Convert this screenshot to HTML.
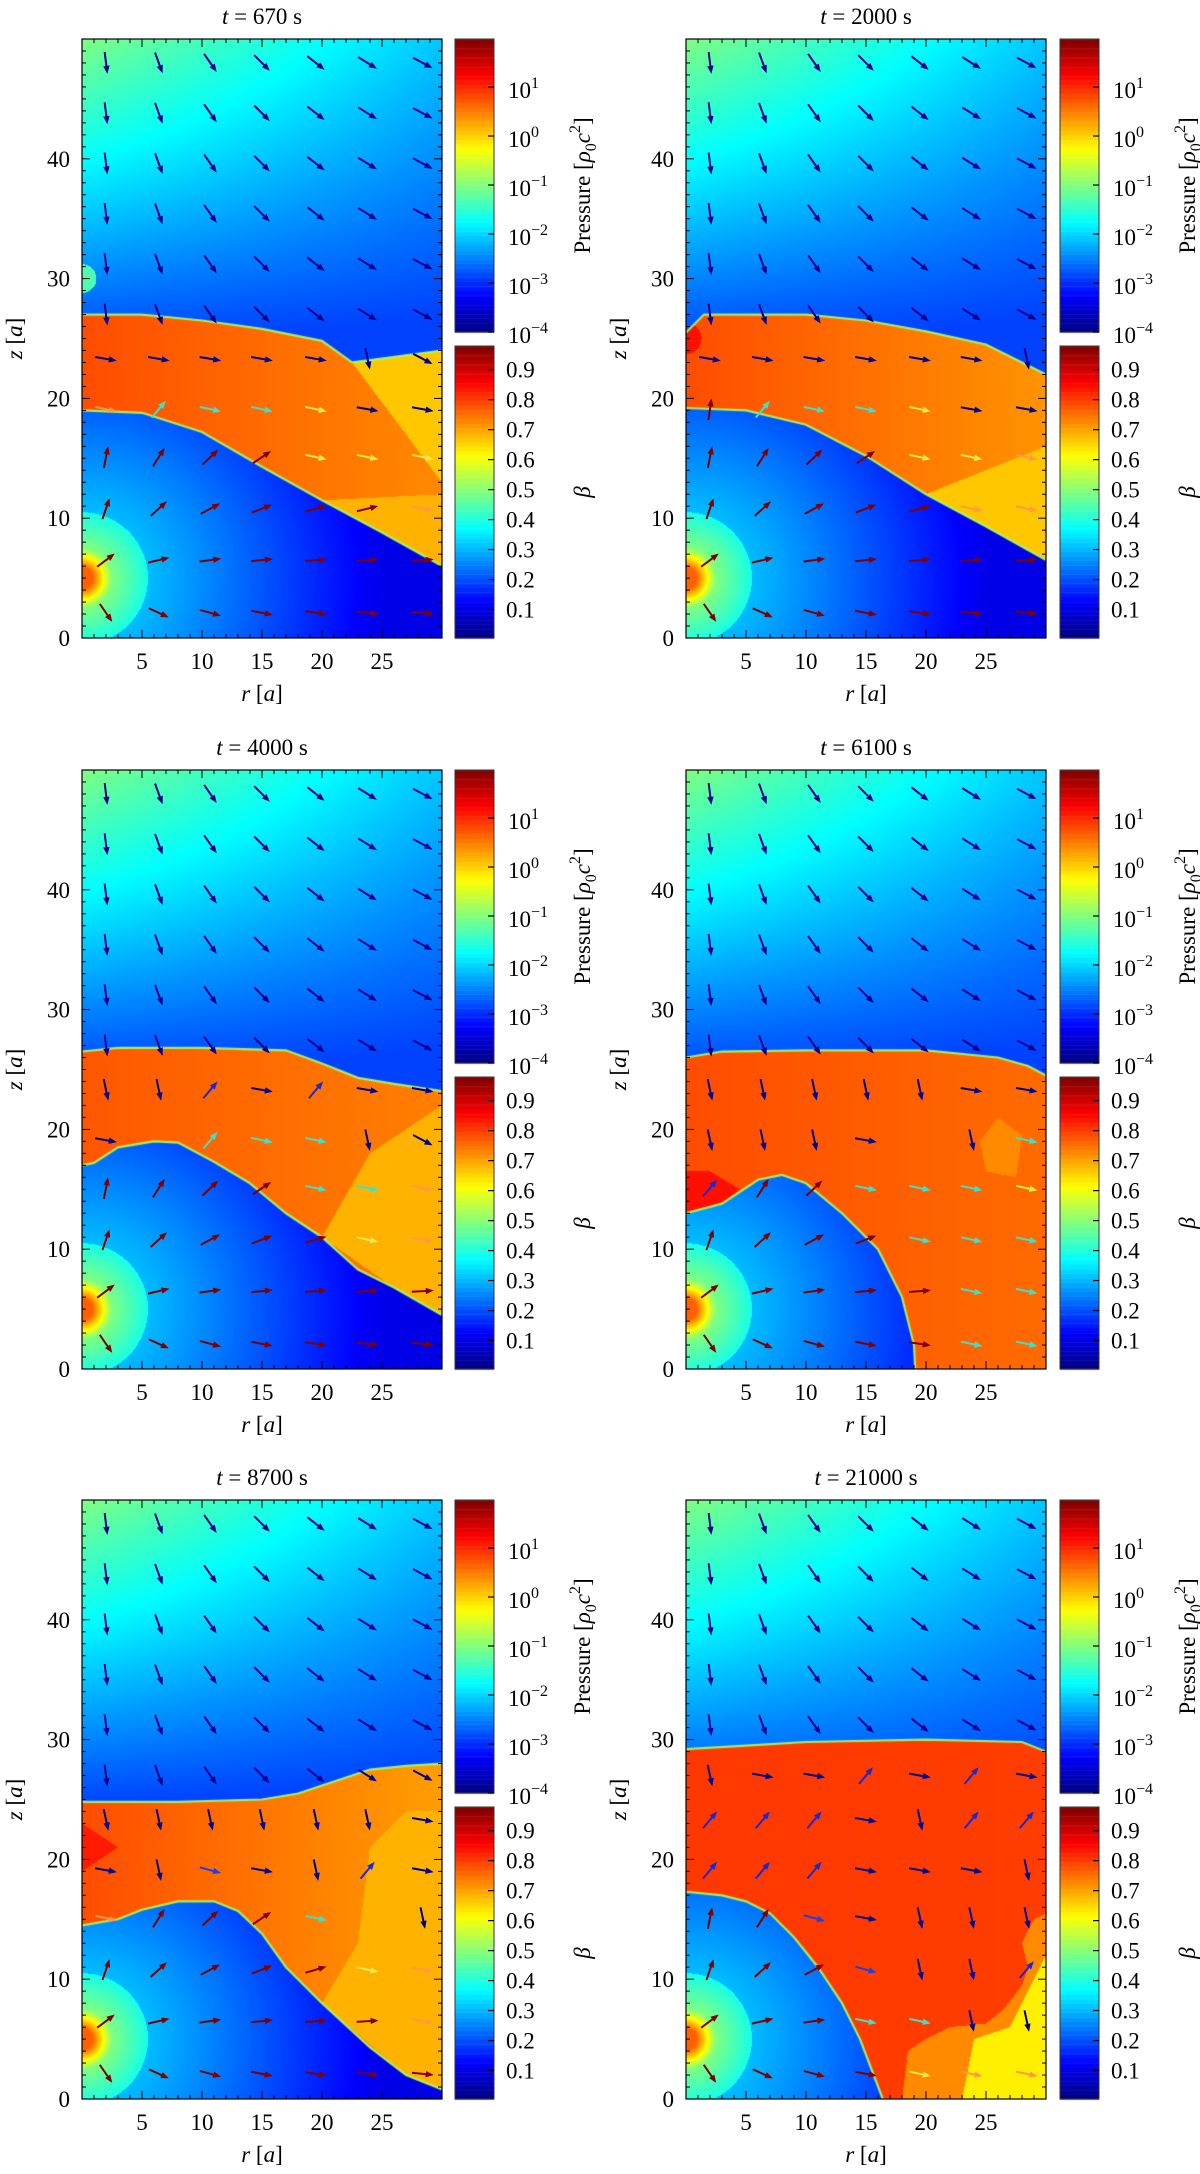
<!DOCTYPE html>
<html><head><meta charset="utf-8">
<style>
html,body{margin:0;padding:0;background:#fff;}
#wrap{position:relative;width:1200px;height:2174px;overflow:hidden;}
canvas,svg{position:absolute;left:0;top:0;}
svg text{font-family:"Liberation Serif",serif;font-size:23px;fill:#000;}
</style></head>
<body>
<div id="wrap">
<canvas id="cv" width="1200" height="2174"></canvas>
<svg id="sv" width="1200" height="2174" xmlns="http://www.w3.org/2000/svg"></svg>
</div>
<script>
const times=[670,2000,4000,6100,8700,21000];
const topEdges=[
[[0,27],[5,27],[10,26.5],[15,25.8],[20,24.8],[22.5,23],[24,23.2],[30,24]],
[[0,25.5],[1.5,27],[10,27],[15,26.5],[20,25.6],[25,24.5],[28,23],[30,22]],
[[0,26.5],[3,26.8],[10,26.8],[17,26.6],[20,25.5],[23,24.3],[26,23.8],[30,23.2]],
[[0,26],[3,26.5],[10,26.6],[20,26.6],[26,26],[28.5,25.3],[30,24.5]],
[[0,24.8],[8,24.8],[15,25],[18,25.5],[21,26.5],[24,27.5],[27,27.8],[30,28]],
[[0,29.2],[5,29.5],[10,29.8],[20,30],[28,29.8],[30,29]]
];
const blueRegions=[
[[0,19],[5,18.8],[10,17.2],[15,14.3],[20,11.5],[25,8.8],[30,6],[30,0]],
[[0,19.2],[5,19],[10,17.8],[15,15.2],[20,12],[25,9.3],[30,6.5],[30,0]],
[[0,17],[1,17.2],[3,18.5],[6,19],[8,18.9],[11,17.3],[14,15.5],[17,13],[20,11],[23,8.3],[26,6.8],[30,4.5],[30,0]],
[[0,13],[3,13.8],[6,15.8],[8,16.2],[10,15.5],[13,13],[16,10],[18,6],[19,2],[19.1,0]],
[[0,14.5],[3,15],[5,15.8],[8,16.5],[11,16.5],[13,15.7],[15,13.8],[17,11],[20,8],[24,4.3],[27,2],[30,0.8],[30,0]],
[[0,17.3],[3,17],[5,16.5],[7,15.5],[9,13.5],[11,11],[13,8],[14.5,5],[16.4,0]]
];
const layerLeft=[0.80,0.80,0.79,0.80,0.80,0.82];
const layerRight=[0.74,0.73,0.75,0.77,0.72,0.815];
const patchValues=[[0.68,0.70],[0.68],[0.70],[0.86,0.74],[0.70,0.85],[0.74,0.64]];
const patchShapes=[
[[[22.5,23],[30,24],[30,13],[27,17]],[[20,11.5],[30,12],[30,6],[25,8.8]]],
[[[20,12],[30,16],[30,6.5],[25,9.3]]],
[[[20,11],[24,18],[30,22],[30,4.5],[26,6.8]]],
[[[0,13],[3,13.8],[4.5,15],[2,16.5],[0,16.5]],[[24.5,19],[26,21],[28,19.5],[27.5,16],[25,16.5]]],
[[[20,8],[23,13],[24,21],[27,24],[30,24],[30,0.8],[27,2]],[[0,19],[0,23],[3,21]]],
[[[18,0],[18.5,4],[20,5],[22,6],[25,6.3],[26.5,7.5],[28,9.5],[28.5,11],[28,13],[29,15],[30,15.5],[30,0]],[[23,0],[24,5],[27,6],[29,10],[30,12],[30,0]]]
];
const arrowGrids=[
["NNNNNNN","NNNNNNN","NNNNNNN","NNNNNNN","NNNNNNN","NNNNNNN","nnnnndN","oCccynn","RRRRyyy","RRRRRRo","RRRRRRR","RRRRRRR"],
["NNNNNNN","NNNNNNN","NNNNNNN","NNNNNNN","NNNNNNN","NNNNNNN","nnnnnnd","RCccynn","RRRRyyo","RRRRRoo","RRRRRRR","RRRRRRR"],
["NNNNNNN","NNNNNNN","NNNNNNN","NNNNNNN","NNNNNNN","NNNNNNN","ddununn","n.CccdN","RRRRcco","RRRRRyo","RRRRRRR","RRRRRRR"],
["NNNNNNN","NNNNNNN","NNNNNNN","NNNNNNN","NNNNNNN","NNNNNNN","dddddnn","dddn.dc","uRRcccy","RRRRccc","RRRRRcc","RRRRRcc"],
["NNNNNNN","NNNNNNN","NNNNNNN","NNNNNNN","NNNNNNN","NNNNNNN","ddddddn","ndbndun","oRRRc.d","RRRRRyo","RRRRRRo","RRRRRRR"],
["NNNNNNN","NNNNNNN","NNNNNNN","NNNNNNN","NNNNNNN","dnnunun","uuunduu","uuunnnd","RRbnddd","RRRbddu","RRRccdd","RRRRyoo"]
];
const zRows=[48,43.8,39.6,35.4,31.2,27,23.3,19.1,15.1,10.8,6.5,2.1];
const rCols=[2,6.4,10.7,15,19.5,23.8,28.4];
const ambAngles=[-83,-70,-55,-45,-38,-32,-28];
const xTicks=[5,10,15,20,25];
const yTicks=[0,10,20,30,40];
const pressureTicks=[1,0,-1,-2,-3,-4];
const betaTicks=[0.1,0.2,0.3,0.4,0.5,0.6,0.7,0.8,0.9];

const colX=[82,686], rowY=[39,770,1500], PW=360, PH=599, CBX=[455,1060], CBW=39;
const P_LO=-4, P_HI=1.98, B_LO=0.005, B_HI=0.979;
const NS='http://www.w3.org/2000/svg';
const sv=document.getElementById('sv');
const ctx=document.getElementById('cv').getContext('2d');

function clamp(x){return x<0?0:x>1?1:x;}
function jet(v){return [clamp(1.5-Math.abs(4*v-3)),clamp(1.5-Math.abs(4*v-2)),clamp(1.5-Math.abs(4*v-1))].map(c=>Math.round(c*255));}
function interp(pts,r){for(let i=0;i<pts.length-1;i++){if(r>=pts[i][0]&&r<=pts[i+1][0]){const t=(r-pts[i][0])/((pts[i+1][0]-pts[i][0])||1);return pts[i][1]+t*(pts[i+1][1]-pts[i][1]);}}return pts[pts.length-1][1];}
function inPoly(p,x,y){let c=false;for(let i=0,j=p.length-1;i<p.length;j=i++){const xi=p[i][0],yi=p[i][1],xj=p[j][0],yj=p[j][1];if(((yi>y)!=(yj>y))&&(x<(xj-xi)*(y-yi)/(yj-yi)+xi))c=!c;}return c;}
function ambient(r,z){return Math.max(0.19,0.22+(z-27)/23*(0.28-0.15*r/30)-0.03*r/30);}
function blueV(r,z){const d=Math.hypot(r,z-5);if(d<0.9)return 0.78;if(d<2.5)return 0.78-(d-0.9)/1.6*0.28;if(d<5.5)return 0.50-(d-2.5)*0.035;return Math.max(0.1,0.31-(d-5.5)*0.0105);}
function el(tag,attrs,parent){const e=document.createElementNS(NS,tag);for(const k in attrs)e.setAttribute(k,attrs[k]);(parent||sv).appendChild(e);return e;}
function txt(x,y,s,anchor,parent){const t=el('text',{x:x,y:y,'text-anchor':anchor||'middle'},parent);t.textContent=s;return t;}

for(let p=0;p<6;p++){
  const x0=colX[p%2], y0=rowY[Math.floor(p/2)];
  const X=r=>x0+r/30*PW, Y=z=>y0+(50-z)/50*PH;
  const g=el('g',{});
  
  
  const img=ctx.createImageData(PW,PH);
  const blue=blueRegions[p].concat([[0,0]]);
  for(let py=0;py<PH;py++){
    const z=50-(py+0.5)/PH*50;
    for(let px=0;px<PW;px++){
      const r=(px+0.5)/PW*30;
      let v;
      if(z>interp(topEdges[p],r)){v=ambient(r,z);if(p==0&&Math.hypot(r,z-30)<1.2)v=0.45;}
      else if(inPoly(blue,r,z)){v=blueV(r,z);}
      else{v=layerLeft[p]+(layerRight[p]-layerLeft[p])*r/30;
        for(let k=0;k<patchShapes[p].length;k++){if(inPoly(patchShapes[p][k],r,z))v=patchValues[p][k];}
        if(p==1&&Math.hypot(r,z-25)<1.3)v=0.86;}
      const c=jet(v),o=(py*PW+px)*4;
      img.data[o]=c[0];img.data[o+1]=c[1];img.data[o+2]=c[2];img.data[o+3]=255;
    }
  }
  ctx.putImageData(img,x0,y0);
  ctx.save();ctx.beginPath();ctx.rect(x0,y0,PW,PH);ctx.clip();
  ctx.lineWidth=2.2;ctx.strokeStyle='rgba(170,255,90,0.9)';
  ctx.beginPath();topEdges[p].forEach((q,i)=>i?ctx.lineTo(X(q[0]),Y(q[1])):ctx.moveTo(X(q[0]),Y(q[1])));ctx.stroke();
  ctx.beginPath();
  for(let i=0;i<blueRegions[p].length;i++){const q=blueRegions[p][i];if(i&&(q[1]<=0&&q[0]>=30))break;i?ctx.lineTo(X(q[0]),Y(q[1])):ctx.moveTo(X(q[0]),Y(q[1]));}
  ctx.stroke();ctx.restore();
  const colors={N:'#00008c',n:'#00008c',d:'#00008c',u:'#1a2ad0',b:'#2040e0',R:'#800000',c:'#40e0c8',C:'#40e0c8',y:'#e8e850',o:'#ff9a40'};
  for(let i=0;i<zRows.length;i++){for(let j=0;j<rCols.length;j++){
    const code=arrowGrids[p][i][j]; if(code=='.')continue;
    const r=rCols[j],z=zRows[i];
    let a;
    if(code=='N')a=ambAngles[j];
    else if(code=='R')a=Math.atan2(z-5,r)*180/Math.PI;
    else if(code=='d')a=-78;
    else if(code=='u'||code=='C')a=50;
    else if(code=='n')a=-10;
    else if(code=='b')a=-15;
    else a=-12;
    const rad=a*Math.PI/180, L=22, cx=X(r), cy=Y(z);
    const dx=Math.cos(rad)*L/2, dy=-Math.sin(rad)*L/2;
    const x1=cx-dx,y1=cy-dy,x2=cx+dx,y2=cy+dy;
    const ux=Math.cos(rad),uy=-Math.sin(rad);
    const ar=el('g',{},g);
    
    
    el('line',{x1:x1,y1:y1,x2:x2-ux*5,y2:y2-uy*5,stroke:colors[code],'stroke-width':2},ar);
    el('polygon',{points:[x2,y2,x2-ux*8-uy*3.2,y2-uy*8+ux*3.2,x2-ux*8+uy*3.2,y2-uy*8-ux*3.2].join(','),fill:colors[code]},ar);
  }}
  const fr=el('rect',{x:x0,y:y0,width:PW,height:PH,fill:'none',stroke:'#000','stroke-width':1.2},g);
  
  
  for(let r=1;r<30;r++){const L=(r%5==0)?8:4;
    el('line',{x1:X(r),x2:X(r),y1:y0+PH,y2:y0+PH-L,stroke:'#000','stroke-width':1},g);
    el('line',{x1:X(r),x2:X(r),y1:y0,y2:y0+L,stroke:'#000','stroke-width':1},g);}
  for(let z=1;z<50;z++){const L=(z%10==0)?8:4;
    el('line',{x1:x0,x2:x0+L,y1:Y(z),y2:Y(z),stroke:'#000','stroke-width':1},g);
    el('line',{x1:x0+PW,x2:x0+PW-L,y1:Y(z),y2:Y(z),stroke:'#000','stroke-width':1},g);}
  xTicks.forEach(v=>{const t=txt(X(v),y0+PH+31,String(v),'middle',g);
    
    });
  yTicks.forEach(v=>{const t=txt(x0-12,Y(v)+8,String(v),'end',g);
    
    });
  const tt=el('text',{x:x0+PW/2,y:y0-15,'text-anchor':'middle'},g);
  
  
  tt.innerHTML='<tspan font-style="italic">t</tspan> = '+times[p]+' s';
  const xl=el('text',{x:x0+PW/2,y:y0+PH+63,'text-anchor':'middle'},g);
  
  
  xl.innerHTML='<tspan font-style="italic">r</tspan> [<tspan font-style="italic">a</tspan>]';
  const yl=el('text',{x:0,y:0,'text-anchor':'middle',transform:'translate('+(x0-60)+','+(y0+PH/2)+') rotate(-90)'},g);
  
  
  yl.innerHTML='<tspan font-style="italic">z</tspan> [<tspan font-style="italic">a</tspan>]';
  const cbx=CBX[p%2], pTop=y0, pBot=y0+293, bTop=y0+307, bBot=y0+PH;
  const N=64;
  for(let i=0;i<N;i++){
    const c=jet((i+0.5)/N);
    ctx.fillStyle='rgb('+c+')';
    let ya=pBot-(i+1)*(pBot-pTop)/N, yb=pBot-i*(pBot-pTop)/N;
    ctx.fillRect(cbx,ya,CBW,yb-ya+0.5);
    ya=bBot-(i+1)*(bBot-bTop)/N; yb=bBot-i*(bBot-bTop)/N;
    ctx.fillRect(cbx,ya,CBW,yb-ya+0.5);
    if(i%2){ctx.fillStyle='rgba(255,255,255,0.12)';ctx.fillRect(cbx,pBot-(i+1)*(pBot-pTop)/N,CBW,1);ctx.fillRect(cbx,bBot-(i+1)*(bBot-bTop)/N,CBW,1);}
  }
  const pb=el('rect',{x:cbx,y:pTop,width:CBW,height:pBot-pTop,fill:'none',stroke:'#333','stroke-width':1},g);
  
  
  const bb=el('rect',{x:cbx,y:bTop,width:CBW,height:bBot-bTop,fill:'none',stroke:'#333','stroke-width':1},g);
  
  
  pressureTicks.forEach(k=>{const y=pBot-(k-P_LO)/(P_HI-P_LO)*(pBot-pTop);
    el('line',{x1:cbx+CBW-6,x2:cbx+CBW,y1:y,y2:y,stroke:'#000','stroke-width':1.2},g);
    const t=el('text',{x:cbx+CBW+14,y:y+11,'text-anchor':'start'},g);
    
    
    t.innerHTML='10<tspan dy="-10" font-size="16">'+(k<0?'\u2212'+(-k):k)+'</tspan>';});
  betaTicks.forEach(b=>{const y=bBot-(b-B_LO)/(B_HI-B_LO)*(bBot-bTop);
    el('line',{x1:cbx+CBW-6,x2:cbx+CBW,y1:y,y2:y,stroke:'#000','stroke-width':1.2},g);
    const t=txt(cbx+CBW+12,y+8,b.toFixed(1),'start',g);
    
    });
  const pl=el('text',{x:0,y:0,'text-anchor':'middle',transform:'translate('+(cbx+135)+','+((pTop+pBot)/2)+') rotate(-90)'},g);
  
  
  pl.innerHTML='Pressure [<tspan font-style="italic">\u03c1</tspan><tspan font-size="16" dy="6">0</tspan><tspan dy="-6" font-style="italic">c</tspan><tspan font-size="16" dy="-10">2</tspan><tspan dy="10">]</tspan>';
  const bl=el('text',{x:0,y:0,'text-anchor':'middle','font-style':'italic',transform:'translate('+(cbx+135)+','+((bTop+bBot)/2)+') rotate(-90)'},g);
  
  
  bl.textContent='\u03b2';
}
</script>
</body></html>
